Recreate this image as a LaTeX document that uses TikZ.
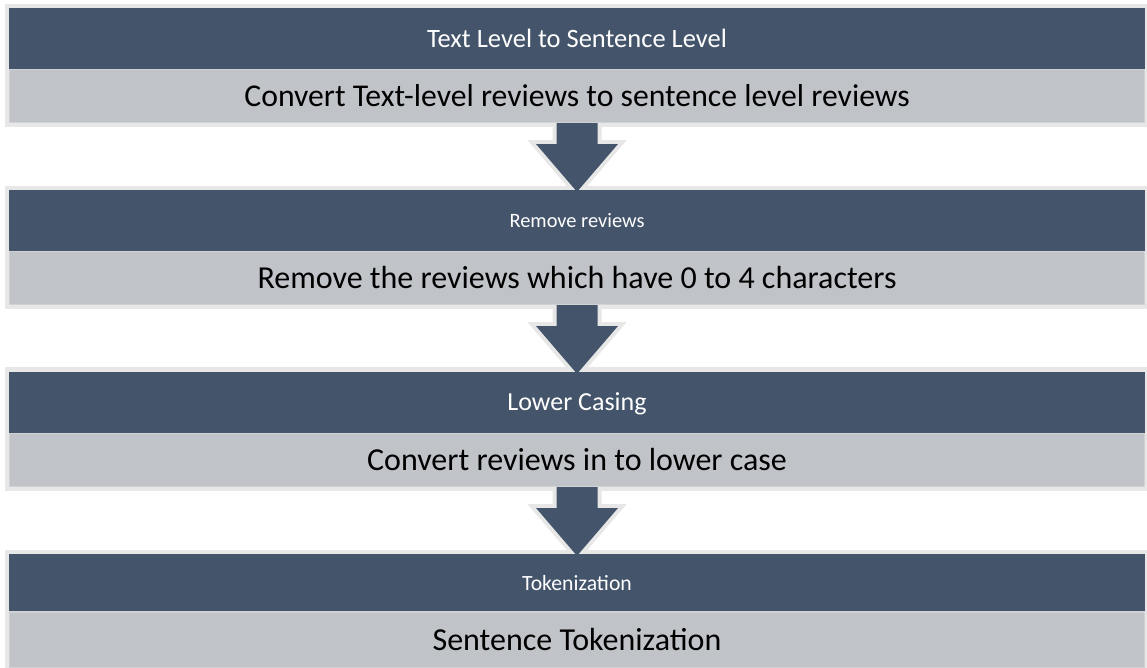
\documentclass[tikz,border=0pt]{standalone}
\usepackage{fontspec}
\setmainfont{Carlito}
\usetikzlibrary{calc}
\definecolor{darkband}{HTML}{44546A}
\definecolor{lightband}{HTML}{C0C3C8}
\definecolor{framegray}{HTML}{E7E7E7}
\definecolor{bandline}{HTML}{D0D2D6}
\pgfdeclarelayer{framelayer}
\pgfdeclarelayer{arrowlayer}
\pgfsetlayers{framelayer,arrowlayer,main}
\begin{document}
\begin{tikzpicture}[x=1pt,y=-1pt,
  titlebox/.style={fill=darkband, text=white, minimum width=1136pt, minimum height=61pt, inner sep=0pt, text depth=0pt},
  bodybox/.style={fill=lightband, draw=bandline, line width=1.2pt, text=black, minimum width=1134.8pt, minimum height=52.8pt, inner sep=0pt, font=\fontsize{32}{36}\selectfont, text height=20.6pt, text depth=0pt},
  stepframe/.style={fill=framegray},
  flowarrow/.style={fill=darkband, preaction={draw=framegray, line width=8pt, line join=miter}}]
\useasboundingbox (0,0) rectangle (1147,667);

% frames
\begin{pgfonlayer}{framelayer}
\fill[stepframe] (5,4) rectangle (1150,127);
\fill[stepframe] (5,186) rectangle (1150,309);
\fill[stepframe] (5,367) rectangle (1150,491);
\fill[stepframe] (5,550) rectangle (1150,700);
\end{pgfonlayer}

% boxes
\node[titlebox, font=\fontsize{26.5}{30}\selectfont, text height=17.1pt] (d1) at (577,38.5) {Text Level to Sentence Level};
\node[bodybox, font=\fontsize{31.7}{36}\selectfont, text height=20.4pt] (l1) at (577,96) {Convert Text-level reviews to sentence level reviews};

\node[titlebox, font=\fontsize{20.4}{24}\selectfont, text height=13.1pt] (d2) at (577,220.5) {Remove reviews};
\node[bodybox] (l2) at (577,278) {Remove the reviews which have 0 to 4 characters};

\node[titlebox, font=\fontsize{26}{30}\selectfont, text height=16.7pt] (d3) at (577,402.5) {Lower Casing};
\node[bodybox] (l3) at (577,460) {Convert reviews in to lower case};

\node[titlebox, minimum height=58pt, font=\fontsize{21.7}{25}\selectfont, text height=14pt] (d4) at (577,583) {Tokenization};
\node[bodybox, minimum height=56pt] (l4) at (577,640) {Sentence Tokenization};

% arrows
\begin{pgfonlayer}{arrowlayer}
\foreach \a/\b in {l1/d2, l2/d3, l3/d4}{
  \path[flowarrow] ($(\a.south)+(-20.5,0)$) -- ($(\a.south)+(-20.5,21)$) -- ($(\a.south)+(-41,21)$)
    -- ($(\b.north)+(0,2)$) -- ($(\a.south)+(41,21)$) -- ($(\a.south)+(20.5,21)$) -- ($(\a.south)+(20.5,0)$) -- cycle;
}
\end{pgfonlayer}
\end{tikzpicture}
\end{document}
